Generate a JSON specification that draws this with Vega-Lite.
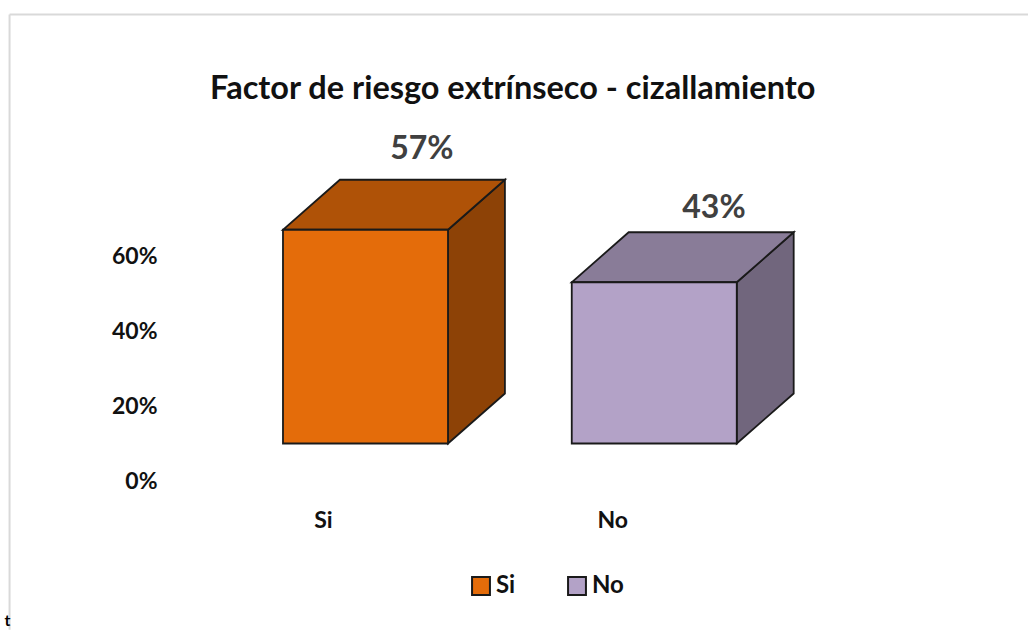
{
"$schema":"https://vega.github.io/schema/vega-lite/v6.json",
"width":863,"height":385,
"autosize":"none",
"padding":{"left":165,"top":120,"right":0,"bottom":125},
"background":"white",
"config":{"view":{"stroke":null},"font":"Lato"},
"title":{"text":"Factor de riesgo extrínseco - cizallamiento","font":"Lato","fontSize":32.5,"fontWeight":"bold","color":"#111111","anchor":"start","frame":"group","dx":45,"dy":107,"offset":15},
"datasets":{
"fronts":[
{"serie":"Si","x0":0,"x1":1,"y0":10,"y1":67},
{"serie":"No","x0":1.75,"x1":2.75,"y0":10,"y1":53}],
"faces":[
{"face":"Si side","x":1,"y0":10,"y1":67},
{"face":"Si side","x":1.345,"y0":23.33,"y1":80.33},
{"face":"Si top","x":0,"y0":67,"y1":67},
{"face":"Si top","x":0.345,"y0":67,"y1":80.33},
{"face":"Si top","x":1,"y0":67,"y1":80.33},
{"face":"Si top","x":1.345,"y0":80.33,"y1":80.33},
{"face":"No side","x":2.75,"y0":10,"y1":53},
{"face":"No side","x":3.095,"y0":23.33,"y1":66.33},
{"face":"No top","x":1.75,"y0":53,"y1":53},
{"face":"No top","x":2.095,"y0":53,"y1":66.33},
{"face":"No top","x":2.75,"y0":53,"y1":66.33},
{"face":"No top","x":3.095,"y0":66.33,"y1":66.33}],
"labels":[{"x":0.842,"y":88.5,"label":"57%"},{"x":2.612,"y":72.8,"label":"43%"}],
"frameH":[{"x0":-1.657,"x1":4.515,"y":124.4}],
"frameV":[{"x":-1.657,"y0":-39.7,"y1":124.4}],
"stray":[{"x":-1.67,"y":-37.4,"label":"t"}]
},
"data":{"name":"fronts"},
"layer":[
{"data":{"name":"frameH"},"mark":{"type":"rule","color":"#d9d9d9","strokeWidth":2},
 "encoding":{"x":{"field":"x0","type":"quantitative"},"x2":{"field":"x1"},"y":{"field":"y","type":"quantitative"}}},
{"data":{"name":"frameV"},"mark":{"type":"rule","color":"#d9d9d9","strokeWidth":2},
 "encoding":{"x":{"field":"x","type":"quantitative"},"y":{"field":"y0","type":"quantitative"},"y2":{"field":"y1"}}},
{"data":{"name":"faces"},"mark":{"type":"area","stroke":"#1a1a1a","strokeWidth":1.8,"interpolate":"linear"},
 "encoding":{
  "x":{"field":"x","type":"quantitative"},
  "y":{"field":"y0","type":"quantitative"},
  "y2":{"field":"y1"},
  "fill":{"field":"face","type":"nominal","legend":null,"scale":{"domain":["Si top","Si side","No top","No side"],"range":["#AF5207","#8D4206","#897C98","#71667D"]}}}},
{"mark":{"type":"rect","stroke":"#1a1a1a","strokeWidth":1.8},
 "encoding":{
  "x":{"field":"x0","type":"quantitative","scale":{"domain":[-0.715,4.515],"nice":false,"zero":false},
   "axis":{"title":null,"values":[0.242,1.995],"labelExpr":"datum.value<1?'Si':'No'","domain":false,"ticks":false,"grid":false,"labelFont":"Lato","labelFontSize":23,"labelFontWeight":"bold","labelColor":"#111111","labelPadding":4}},
  "x2":{"field":"x1"},
  "y":{"field":"y0","type":"quantitative","scale":{"domain":[-6.4,96.267],"nice":false,"zero":false},
   "axis":{"title":null,"values":[0,20,40,60],"labelExpr":"datum.value+'%'","domain":false,"ticks":false,"grid":false,"labelFont":"Lato","labelFontSize":23,"labelFontWeight":"bold","labelColor":"#111111","labelPadding":8}},
  "y2":{"field":"y1"},
  "color":{"field":"serie","type":"nominal","scale":{"domain":["Si","No"],"range":["#E46C0A","#B3A2C7"]},
   "legend":{"title":null,"orient":"none","legendX":304,"legendY":454,"direction":"horizontal","symbolType":"square","symbolSize":320,"symbolStrokeColor":"#1a1a1a","symbolStrokeWidth":2,"labelFont":"Lato","labelFontSize":24,"labelFontWeight":"bold","labelColor":"#111111","labelOffset":3,"columnPadding":48,"symbolOpacity":1}}}},
{"data":{"name":"labels"},"mark":{"type":"text","font":"Lato","fontSize":32,"fontWeight":"bold","color":"#404040","align":"center","baseline":"middle"},
 "encoding":{"x":{"field":"x","type":"quantitative"},"y":{"field":"y","type":"quantitative"},"text":{"field":"label"}}},
{"data":{"name":"stray"},"mark":{"type":"text","font":"Lato","fontSize":16,"fontWeight":"bold","color":"#000000","align":"center","baseline":"middle"},
 "encoding":{"x":{"field":"x","type":"quantitative"},"y":{"field":"y","type":"quantitative"},"text":{"field":"label"}}}
]
}
